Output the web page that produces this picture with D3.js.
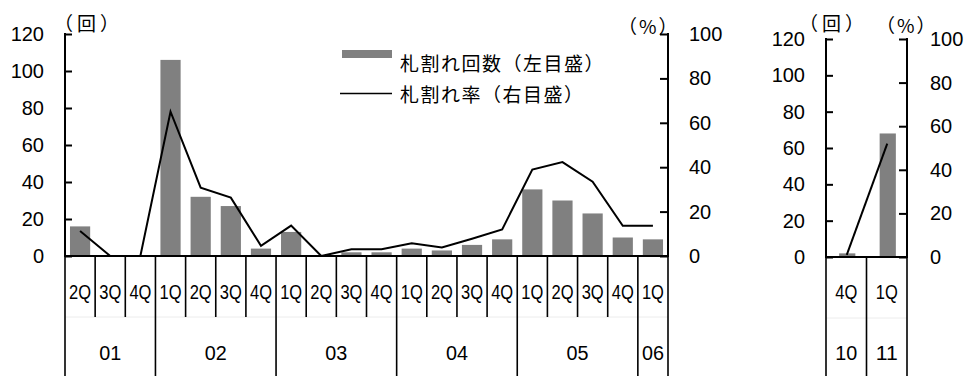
<!DOCTYPE html>
<html><head><meta charset="utf-8">
<script src="https://cdn.jsdelivr.net/npm/d3@7"></script>
<style>
html,body{margin:0;padding:0;background:#fff;}
svg{display:block;}
</style></head>
<body>
<svg id="chart" width="965" height="376"></svg>
<script>
// ---- data ----
const quarterLabels = ["2Q","3Q","4Q","1Q","2Q","3Q","4Q","1Q","2Q","3Q","4Q","1Q","2Q","3Q","4Q","1Q","2Q","3Q","4Q","1Q"];
const yearLabels = ["01","02","03","04","05","06"];
const yearQuarterCounts = [3,4,4,4,4,1];
const counts = [16,0,0,106,32,27,4,13,0,2,2,4,3,6,9,36,30,23,10,9];
const rates = [11.3,0,0,65,30.8,26.3,4.6,13.7,0,3,3,5.7,3.8,7.8,12,38.9,42.3,33.5,13.6,13.6];
const rightQuarterLabels = ["4Q","1Q"];
const rightYearLabels = ["10","11"];
const rightYearQuarterCounts = [1,1];
const rightCounts = [2,68];
const rightRates = [1,52];
const countTicks = [0,20,40,60,80,100,120];
const rateTicks = [0,20,40,60,80,100];
const legendLabels = ["札割れ回数（左目盛）","札割れ率（右目盛）"];
const unitLabels = ["（回）","（%）"];

const NUM_FONT = "'Liberation Sans', Arial, sans-serif";
const CJK_FONT = "'Noto Sans CJK JP', sans-serif";
const BAR_COLOR = "#808080";

const svg = d3.select("#chart");

function drawPanel(cfg) {
  const g = svg.append("g");
  const n = cfg.quarters.length;
  const idx = d3.range(n);
  const x = d3.scaleBand().domain(idx).range([cfg.x0, cfg.x1])
    .paddingInner(cfg.padInner).paddingOuter(cfg.padInner / 2);
  const yC = d3.scaleLinear().domain([0, 120]).range([cfg.yBase, cfg.yTop]);
  const yR = d3.scaleLinear().domain([0, 100]).range([cfg.yBase, cfg.yTop]);
  const step = x.step();
  const bound = i => cfg.x0 + i * step;

  // faint separator line
  g.append("line").attr("x1", cfg.x0).attr("x2", cfg.x1)
    .attr("y1", cfg.qEnd).attr("y2", cfg.qEnd)
    .attr("stroke", "#ececec").attr("stroke-width", 1);

  // bars
  g.selectAll("rect.bar").data(idx).join("rect").attr("class", "bar")
    .attr("x", i => x(i) + cfg.barShift)
    .attr("width", x.bandwidth())
    .attr("y", i => yC(cfg.counts[i]))
    .attr("height", i => yC(0) - yC(cfg.counts[i]))
    .attr("fill", BAR_COLOR);

  // line
  const line = d3.line().x(i => x(i) + x.bandwidth() / 2 + cfg.barShift / 2).y(i => yR(cfg.rates[i]));
  g.append("path").datum(idx).attr("d", line)
    .attr("fill", "none").attr("stroke", "#000").attr("stroke-width", 2)
    .attr("stroke-linejoin", "miter");

  // left axis: inward ticks
  const la = g.append("g").attr("transform", `translate(${cfg.x0},0)`)
    .call(d3.axisRight(yC).tickValues(countTicks).tickSize(7).tickFormat(""));
  la.select(".domain").remove();
  la.selectAll("line").attr("stroke", "#000").attr("stroke-width", 2);
  g.append("line").attr("x1", cfg.x0).attr("x2", cfg.x0).attr("y1", cfg.yTop - 1).attr("y2", cfg.yBase)
    .attr("stroke", "#000").attr("stroke-width", 2);
  const ll = g.append("g").attr("transform", `translate(${cfg.x0},0)`)
    .call(d3.axisLeft(yC).tickValues(countTicks).tickSize(0).tickPadding(cfg.lPad));
  ll.select(".domain").remove();
  ll.selectAll("text").attr("font-family", NUM_FONT).attr("font-size", 20).attr("fill", "#000");

  // right axis: inward ticks
  const ra = g.append("g").attr("transform", `translate(${cfg.x1},0)`)
    .call(d3.axisLeft(yR).tickValues(rateTicks).tickSize(8).tickFormat(""));
  ra.select(".domain").remove();
  ra.selectAll("line").attr("stroke", "#000").attr("stroke-width", 2);
  g.append("line").attr("x1", cfg.x1).attr("x2", cfg.x1).attr("y1", cfg.yTop - 1).attr("y2", cfg.yBase)
    .attr("stroke", "#000").attr("stroke-width", 2);
  const rl = g.append("g").attr("transform", `translate(${cfg.x1},0)`)
    .call(d3.axisRight(yR).tickValues(rateTicks).tickSize(0).tickPadding(cfg.rPad));
  rl.select(".domain").remove();
  rl.selectAll("text").attr("font-family", NUM_FONT).attr("font-size", 20).attr("fill", "#000");

  // baseline
  g.append("line").attr("x1", cfg.x0 - 1).attr("x2", cfg.x1 + 1)
    .attr("y1", cfg.yBase).attr("y2", cfg.yBase)
    .attr("stroke", "#000").attr("stroke-width", 2);

  // dividers
  const yearBounds = new Set([0]);
  let acc = 0;
  cfg.yearCounts.forEach(c => { acc += c; yearBounds.add(acc); });
  d3.range(n + 1).forEach(i => {
    g.append("line").attr("x1", bound(i)).attr("x2", bound(i))
      .attr("y1", cfg.yBase).attr("y2", yearBounds.has(i) ? 376 : cfg.qEnd)
      .attr("stroke", "#000").attr("stroke-width", 1.6);
  });

  // quarter labels
  g.selectAll("text.q").data(idx).join("text").attr("class", "q")
    .attr("x", i => bound(i) + step / 2).attr("y", cfg.qY)
    .attr("text-anchor", "middle").attr("dominant-baseline", "central")
    .attr("font-family", NUM_FONT).attr("font-size", 20)
    .attr("textLength", 22).attr("lengthAdjust", "spacingAndGlyphs")
    .text(i => cfg.quarters[i]);

  // year labels
  let start = 0;
  cfg.years.forEach((yl, k) => {
    const c = cfg.yearCounts[k];
    const cx = (bound(start) + bound(start + c)) / 2;
    g.append("text").attr("x", cx).attr("y", cfg.yY)
      .attr("text-anchor", "middle").attr("dominant-baseline", "central")
      .attr("font-family", NUM_FONT).attr("font-size", 20)
      .attr("textLength", 22).attr("lengthAdjust", "spacingAndGlyphs")
      .text(yl);
    start += c;
  });

  // units
  g.append("text").attr("x", cfg.unitLX).attr("y", cfg.unitLY)
    .attr("font-family", CJK_FONT).attr("font-size", 19).attr("letter-spacing", "4px")
    .attr("dominant-baseline", "central")
    .text(unitLabels[0]);
  g.append("text").attr("x", cfg.unitRX).attr("y", cfg.unitRY)
    .attr("font-family", CJK_FONT).attr("font-size", 19).attr("letter-spacing", "2px")
    .attr("dominant-baseline", "central")
    .text(unitLabels[1]);
}

drawPanel({
  x0: 65, x1: 668, yTop: 34, yBase: 256, qEnd: 317, qY: 292, yY: 353,
  quarters: quarterLabels, years: yearLabels, yearCounts: yearQuarterCounts,
  counts: counts, rates: rates, padInner: 0.33, barShift: 0,
  lPad: 21, rPad: 21, unitLX: 54, unitLY: 22, unitRX: 618, unitRY: 25
});

drawPanel({
  x0: 826, x1: 907, yTop: 39, yBase: 257, qEnd: 318, qY: 292, yY: 353,
  quarters: rightQuarterLabels, years: rightYearLabels, yearCounts: rightYearQuarterCounts,
  counts: rightCounts, rates: rightRates, padInner: 0.6, barShift: 1,
  lPad: 21, rPad: 23, unitLX: 799, unitLY: 22, unitRX: 876, unitRY: 24
});

// legend
const lg = svg.append("g");
lg.append("rect").attr("x", 342).attr("y", 50).attr("width", 50).attr("height", 8).attr("fill", BAR_COLOR);
lg.append("line").attr("x1", 340).attr("x2", 392).attr("y1", 93.5).attr("y2", 93.5)
  .attr("stroke", "#000").attr("stroke-width", 1.5);
lg.selectAll("text").data(legendLabels).join("text")
  .attr("x", 400).attr("y", (d, i) => i === 0 ? 62 : 93.5)
  .attr("dominant-baseline", "central")
  .attr("font-family", CJK_FONT).attr("font-size", 19)
  .attr("letter-spacing", "1.5px")
  .text(d => d);
</script>
</body></html>
